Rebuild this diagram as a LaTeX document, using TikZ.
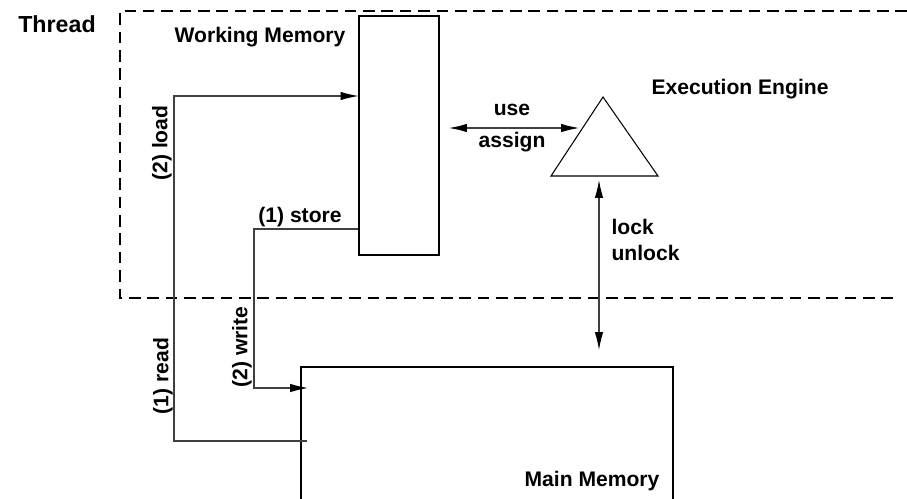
\documentclass[tikz,border=0pt]{standalone}
\usepackage{fontspec}
\setmainfont{Liberation Sans}
\usetikzlibrary{arrows.meta, fit}

\begin{document}
\begin{tikzpicture}[> = {Latex[length = 8.5pt, width = 4pt, black]},
	x = 0.474pt, y = -0.474pt,
	box/.style = {draw, inner sep = 0pt, line width = 0.5pt},
	conn/.style = {black!75, line width = 0.5pt},
	frame/.style = {dash pattern = on 5.5pt off 3.2pt, line width = 0.9pt},
	lbl/.style = {font = \bfseries, inner sep = 1pt}]

% Page

\clip (0, 0) rectangle (907, 498);

% Thread frame

\draw [frame] (907, 11) -- (120, 11) -- (120, 298) -- (897, 298);
\node [lbl, font = \bfseries\fontsize{11}{13}\selectfont] (thread) at (57, 24) {Thread};

% Memories

\node [box, fit = {(359, 16) (439, 255)}] (wm) {};
\node [lbl] (wm-lbl) at (260, 37) {Working Memory};

\node [box, fit = {(301, 367) (673, 530)}] (mm) {};
\node [lbl] (mm-lbl) at (592, 481) {Main Memory};

% Execution engine

\coordinate (ee-apex) at (603, 97);
\coordinate (ee-left) at (551, 176);
\coordinate (ee-right) at (658, 176);
\draw [line width = 0.5pt] (ee-apex) -- (ee-left) -- (ee-right) -- cycle;
\node [lbl] (ee-lbl) at (740, 89) {Execution Engine};

% Read and load

\coordinate (read-start) at (307, 441);
\coordinate (load-corner) at (174, 96);
\draw [conn, ->] (read-start) -| (load-corner) -- (load-corner -| wm.west);
\node [lbl, rotate = 90] (read-lbl) at (163, 376) {(1) read};
\node [lbl, rotate = 90] (load-lbl) at (162, 143) {(2) load};

% Store and write

\coordinate (store-corner) at (254, 229);
\coordinate (write-end) at (308, 388);
\draw [conn, ->] (store-corner -| wm.west) -- (store-corner) |- (write-end);
\node [lbl] (store-lbl) at (300, 217) {(1) store};
\node [lbl, rotate = 90] (write-lbl) at (242, 347) {(2) write};

% Use and assign

\coordinate (use-start) at (449, 128);
\coordinate (use-end) at (579, 128);
\draw [conn, <->] (use-start) -- (use-end);
\node [lbl] (use-lbl) at (512, 110) {use};
\node [lbl] (assign-lbl) at (512, 142) {assign};

% Lock and unlock

\coordinate (lock-top) at (599, 180);
\coordinate (lock-end) at (599, 350);
\draw [conn, <->] (lock-top) -- (lock-end);
\node [lbl, anchor = west] (lock-lbl) at (609, 227) {lock};
\node [lbl, anchor = west] (unlock-lbl) at (609, 253) {unlock};

\end{tikzpicture}
\end{document}
